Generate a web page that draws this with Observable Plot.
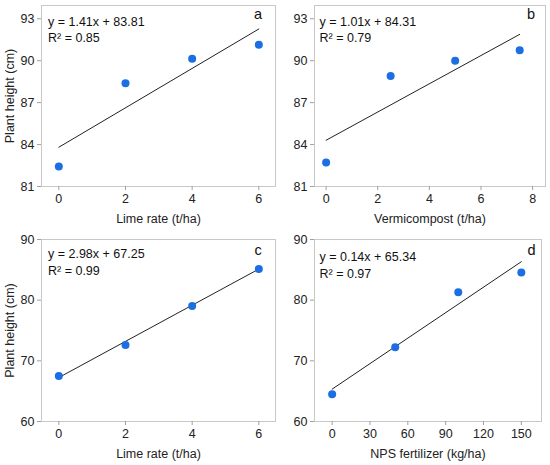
<!DOCTYPE html>
<html>
<head>
<meta charset="utf-8">
<script src="https://cdn.jsdelivr.net/npm/d3@7"></script>
<script src="https://cdn.jsdelivr.net/npm/@observablehq/plot@0.6"></script>
<style>
  html, body { margin: 0; padding: 0; background: #fff; }
  #wrap { position: relative; width: 550px; height: 465px; overflow: hidden; }
  .panel { position: absolute; }
</style>
</head>
<body>
<div id="wrap">
  <div class="panel" id="pa" style="left:0px;top:0px"></div>
  <div class="panel" id="pb" style="left:275px;top:0px"></div>
  <div class="panel" id="pc" style="left:0px;top:232px"></div>
  <div class="panel" id="pd" style="left:275px;top:232px"></div>
</div>
<script>
// ---- data ----
const limeRate = [0, 2, 4, 6];
const vermicompost = [0, 2.5, 5, 7.5];
const npsFertilizer = [0, 50, 100, 150];

const heightA = [82.43, 88.38, 90.14, 91.14];
const heightB = [82.71, 88.9, 90.0, 90.74];
const heightC = [67.5, 72.6, 79.05, 85.15];
const heightD = [64.5, 72.24, 81.3, 84.55];

const slopes = [1.41, 1.01, 2.98, 0.14];
const intercepts = [83.81, 84.31, 67.25, 65.34];
const equations = ["y = 1.41x + 83.81", "y = 1.01x + 84.31", "y = 2.98x + 67.25", "y = 0.14x + 65.34"];
const r2Labels = ["R² = 0.85", "R² = 0.79", "R² = 0.99", "R² = 0.97"];
const panelLetters = ["a", "b", "c", "d"];
const xLabels = ["Lime rate (t/ha)", "Vermicompost (t/ha)", "Lime rate (t/ha)", "NPS fertilizer (kg/ha)"];
const yLabel = "Plant height (cm)";

const xTicksA = [0, 2, 4, 6];
const xTicksB = [0, 2, 4, 6, 8];
const xTicksD = [0, 30, 60, 90, 120, 150];
const yTicksTop = [81, 84, 87, 90, 93];
const yTicksBottom = [60, 70, 80, 90];

const FONT = "'Liberation Sans', Arial, Helvetica, sans-serif";
const DOT = "#1c6fe3";
const FS = 12.5;
const fmt = d3.format("~g");

function panel(cfg) {
  const pts = cfg.xs.map((x, i) => ({x, y: cfg.ys[i]}));
  const x0 = d3.min(cfg.xs), x1 = d3.max(cfg.xs);
  const fit = [x0, x1].map(x => ({x, y: cfg.slope * x + cfg.intercept}));
  const marks = [
    Plot.frame({stroke: "#c8c8c8"}),
    Plot.axisX({ticks: cfg.xTicks, tickFormat: fmt, tickSize: 4, tickPadding: 4, stroke: "#a0a0a0", fill: "#222", fontSize: FS,
      label: cfg.xLabel, labelAnchor: "center", labelArrow: "none", labelOffset: cfg.xLabelOffset}),
    Plot.axisY({ticks: cfg.yTicks, tickFormat: fmt, tickSize: 4, tickPadding: 3, stroke: "#a0a0a0", fill: "#222", fontSize: FS,
      label: cfg.yLabel, labelAnchor: "center", labelArrow: "none", labelOffset: 36}),
    Plot.line(fit, {x: "x", y: "y", stroke: "#222", strokeWidth: 1}),
    Plot.dot(pts, {x: "x", y: "y", r: 4, fill: DOT, stroke: "none"}),
    Plot.text([cfg.eq], {text: d => d, frameAnchor: "top-left", textAnchor: "start", lineAnchor: "bottom", dx: cfg.tdx, dy: cfg.tdy, fontSize: FS, fill: "#111"}),
    Plot.text([cfg.r2], {text: d => d, frameAnchor: "top-left", textAnchor: "start", lineAnchor: "bottom", dx: cfg.tdx, dy: cfg.tdy + 16.7, fontSize: FS, fill: "#111"}),
    Plot.text([cfg.letter], {text: d => d, frameAnchor: "top-right", textAnchor: "middle", lineAnchor: "bottom", dx: -cfg.ldx, dy: cfg.ldy, fontSize: 14.5, fill: "#111"})
  ];
  return Plot.plot({
    width: cfg.width, height: cfg.height,
    marginLeft: cfg.ml, marginRight: cfg.mr, marginTop: cfg.mt, marginBottom: cfg.mb,
    style: {fontFamily: FONT, fontSize: FS + "px", color: "#222", background: "transparent"},
    x: {domain: cfg.xDomain, label: null},
    y: {domain: cfg.yDomain, label: null},
    marks
  });
}

document.getElementById("pa").append(panel({
  xs: limeRate, ys: heightA, slope: slopes[0], intercept: intercepts[0],
  xTicks: xTicksA, yTicks: yTicksTop, xDomain: [-0.52, 6.5], yDomain: [81, 93.95],
  xLabel: xLabels[0], yLabel: yLabel, xLabelOffset: 36,
  eq: equations[0], r2: r2Labels[0], letter: panelLetters[0],
  width: 277, height: 232, ml: 41, mr: 2, mt: 5, mb: 46,
  tdx: 6.5, tdy: 20, ldx: 17.5, ldy: 13.5
}));
document.getElementById("pb").append(panel({
  xs: vermicompost, ys: heightB, slope: slopes[1], intercept: intercepts[1],
  xTicks: xTicksB, yTicks: yTicksTop, xDomain: [-0.45, 8.5], yDomain: [81, 93.95],
  xLabel: xLabels[1], yLabel: null, xLabelOffset: 36,
  eq: equations[1], r2: r2Labels[1], letter: panelLetters[1],
  width: 275, height: 232, ml: 39, mr: 5, mt: 5, mb: 46,
  tdx: 5, tdy: 20, ldx: 14.5, ldy: 13.5
}));
document.getElementById("pc").append(panel({
  xs: limeRate, ys: heightC, slope: slopes[2], intercept: intercepts[2],
  xTicks: xTicksA, yTicks: yTicksBottom, xDomain: [-0.52, 6.5], yDomain: [60, 90],
  xLabel: xLabels[2], yLabel: yLabel, xLabelOffset: 36,
  eq: equations[2], r2: r2Labels[2], letter: panelLetters[2],
  width: 277, height: 233, ml: 41, mr: 2, mt: 7, mb: 44,
  tdx: 6.5, tdy: 18.5, ldx: 17.5, ldy: 15
}));
document.getElementById("pd").append(panel({
  xs: npsFertilizer, ys: heightD, slope: slopes[3], intercept: intercepts[3],
  xTicks: xTicksD, yTicks: yTicksBottom, xDomain: [-14, 166], yDomain: [60, 90],
  xLabel: xLabels[3], yLabel: null, xLabelOffset: 36,
  eq: equations[3], r2: r2Labels[3], letter: panelLetters[3],
  width: 275, height: 233, ml: 39, mr: 9, mt: 7, mb: 44,
  tdx: 5, tdy: 21.5, ldx: 10, ldy: 15
}));
</script>
</body>
</html>
